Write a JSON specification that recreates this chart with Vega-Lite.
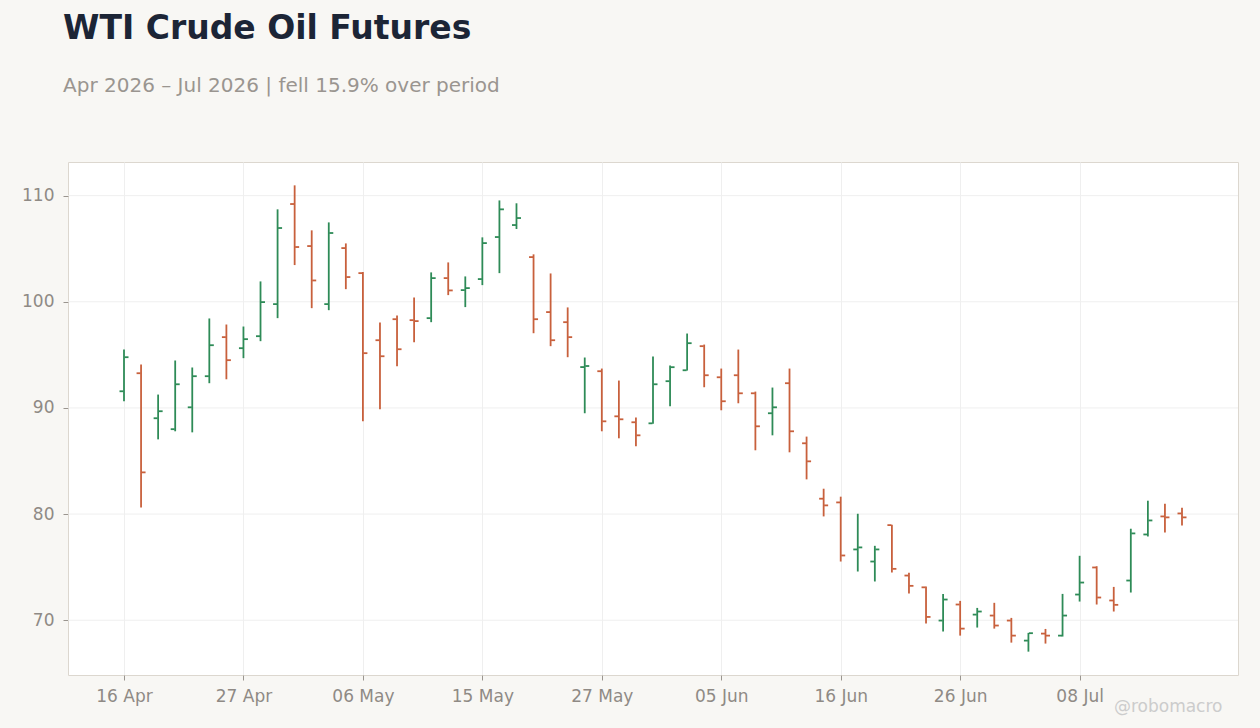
{
  "$schema": "https://vega.github.io/schema/vega-lite/v6.json",
  "width": 1170,
  "height": 513,
  "autosize": "none",
  "padding": {"left": 68, "top": 162, "right": 22, "bottom": 53},
  "background": "#f8f7f4",
  "title": {
    "text": "WTI Crude Oil Futures",
    "subtitle": "Apr 2026 – Jul 2026 | fell 15.9% over period",
    "anchor": "start",
    "frame": "group",
    "dx": -5,
    "offset": 66,
    "font": "DejaVu Sans",
    "fontSize": 33,
    "fontWeight": "bold",
    "color": "#1c2536",
    "subtitleFont": "DejaVu Sans",
    "subtitleFontSize": 20,
    "subtitleColor": "#9a9590",
    "subtitlePadding": 30
  },
  "datasets": {
    "wti": [
      {"date": "2026-04-16", "open": 91.57, "high": 95.5, "low": 90.63, "close": 94.78},
      {"date": "2026-04-17", "open": 93.27, "high": 94.09, "low": 80.63, "close": 83.93},
      {"date": "2026-04-20", "open": 89.03, "high": 91.26, "low": 87.04, "close": 89.69},
      {"date": "2026-04-21", "open": 88.0, "high": 94.47, "low": 87.8, "close": 92.23},
      {"date": "2026-04-22", "open": 90.06, "high": 93.81, "low": 87.7, "close": 92.99},
      {"date": "2026-04-23", "open": 92.99, "high": 98.43, "low": 92.33, "close": 95.91},
      {"date": "2026-04-24", "open": 96.67, "high": 97.86, "low": 92.7, "close": 94.5},
      {"date": "2026-04-27", "open": 95.63, "high": 97.67, "low": 94.69, "close": 96.48},
      {"date": "2026-04-28", "open": 96.76, "high": 101.92, "low": 96.29, "close": 99.97},
      {"date": "2026-04-29", "open": 99.78, "high": 108.71, "low": 98.46, "close": 106.95},
      {"date": "2026-04-30", "open": 109.21, "high": 110.97, "low": 103.46, "close": 105.16},
      {"date": "2026-05-01", "open": 105.25, "high": 106.73, "low": 99.4, "close": 102.01},
      {"date": "2026-05-04", "open": 99.78, "high": 107.48, "low": 99.21, "close": 106.48},
      {"date": "2026-05-05", "open": 105.06, "high": 105.5, "low": 101.19, "close": 102.33},
      {"date": "2026-05-06", "open": 102.7, "high": 102.8, "low": 88.74, "close": 95.16},
      {"date": "2026-05-07", "open": 96.38, "high": 98.05, "low": 89.87, "close": 94.87},
      {"date": "2026-05-08", "open": 98.36, "high": 98.71, "low": 93.93, "close": 95.53},
      {"date": "2026-05-11", "open": 98.27, "high": 100.41, "low": 96.19, "close": 98.18},
      {"date": "2026-05-12", "open": 98.46, "high": 102.77, "low": 98.08, "close": 102.23},
      {"date": "2026-05-13", "open": 102.23, "high": 103.71, "low": 100.63, "close": 101.07},
      {"date": "2026-05-14", "open": 101.1, "high": 102.39, "low": 99.5, "close": 101.29},
      {"date": "2026-05-15", "open": 102.14, "high": 106.07, "low": 101.57, "close": 105.53},
      {"date": "2026-05-18", "open": 106.1, "high": 109.55, "low": 102.7, "close": 108.71},
      {"date": "2026-05-19", "open": 107.23, "high": 109.28, "low": 106.86, "close": 107.89},
      {"date": "2026-05-20", "open": 104.21, "high": 104.47, "low": 97.04, "close": 98.36},
      {"date": "2026-05-21", "open": 99.03, "high": 102.67, "low": 95.82, "close": 96.38},
      {"date": "2026-05-22", "open": 98.08, "high": 99.47, "low": 94.78, "close": 96.67},
      {"date": "2026-05-26", "open": 93.85, "high": 94.75, "low": 89.5, "close": 93.95},
      {"date": "2026-05-27", "open": 93.46, "high": 93.71, "low": 87.8, "close": 88.74},
      {"date": "2026-05-28", "open": 89.21, "high": 92.58, "low": 87.14, "close": 88.93},
      {"date": "2026-05-29", "open": 88.65, "high": 89.09, "low": 86.38, "close": 87.42},
      {"date": "2026-06-01", "open": 88.55, "high": 94.84, "low": 88.52, "close": 92.23},
      {"date": "2026-06-02", "open": 92.52, "high": 93.99, "low": 90.16, "close": 93.84},
      {"date": "2026-06-03", "open": 93.55, "high": 97.01, "low": 93.52, "close": 96.1},
      {"date": "2026-06-04", "open": 95.82, "high": 95.97, "low": 91.95, "close": 93.08},
      {"date": "2026-06-05", "open": 92.89, "high": 93.71, "low": 89.78, "close": 90.63},
      {"date": "2026-06-08", "open": 93.08, "high": 95.5, "low": 90.44, "close": 91.38},
      {"date": "2026-06-09", "open": 91.38, "high": 91.54, "low": 86.01, "close": 88.27},
      {"date": "2026-06-10", "open": 89.5, "high": 91.92, "low": 87.42, "close": 90.06},
      {"date": "2026-06-11", "open": 92.33, "high": 93.71, "low": 85.82, "close": 87.8},
      {"date": "2026-06-12", "open": 86.67, "high": 87.3, "low": 83.27, "close": 84.97},
      {"date": "2026-06-15", "open": 81.45, "high": 82.39, "low": 79.78, "close": 80.82},
      {"date": "2026-06-16", "open": 81.1, "high": 81.64, "low": 75.53, "close": 76.1},
      {"date": "2026-06-17", "open": 76.67, "high": 80.03, "low": 74.59, "close": 76.86},
      {"date": "2026-06-18", "open": 75.53, "high": 77.01, "low": 73.65, "close": 76.67},
      {"date": "2026-06-22", "open": 78.96, "high": 78.99, "low": 74.5, "close": 74.84},
      {"date": "2026-06-23", "open": 74.21, "high": 74.47, "low": 72.52, "close": 73.24},
      {"date": "2026-06-24", "open": 73.1, "high": 73.18, "low": 69.69, "close": 70.31},
      {"date": "2026-06-25", "open": 69.97, "high": 72.48, "low": 68.93, "close": 71.95},
      {"date": "2026-06-26", "open": 71.48, "high": 71.82, "low": 68.55, "close": 69.21},
      {"date": "2026-06-29", "open": 70.53, "high": 71.16, "low": 69.31, "close": 70.82},
      {"date": "2026-06-30", "open": 70.44, "high": 71.64, "low": 69.21, "close": 69.5},
      {"date": "2026-07-01", "open": 69.97, "high": 70.22, "low": 67.89, "close": 68.55},
      {"date": "2026-07-02", "open": 68.08, "high": 68.81, "low": 67.04, "close": 68.78},
      {"date": "2026-07-06", "open": 68.74, "high": 69.18, "low": 67.8, "close": 68.55},
      {"date": "2026-07-07", "open": 68.55, "high": 72.48, "low": 68.46, "close": 70.44},
      {"date": "2026-07-08", "open": 72.42, "high": 76.07, "low": 71.76, "close": 73.55},
      {"date": "2026-07-09", "open": 74.97, "high": 75.09, "low": 71.48, "close": 72.14},
      {"date": "2026-07-10", "open": 71.86, "high": 73.14, "low": 70.82, "close": 71.45},
      {"date": "2026-07-13", "open": 73.74, "high": 78.62, "low": 72.61, "close": 78.18},
      {"date": "2026-07-14", "open": 78.08, "high": 81.26, "low": 77.89, "close": 79.4},
      {"date": "2026-07-15", "open": 79.78, "high": 80.97, "low": 78.27, "close": 79.69},
      {"date": "2026-07-16", "open": 80.06, "high": 80.6, "low": 78.93, "close": 79.69}
    ],
    "gridlines": [
      {"price": 70}, {"price": 80}, {"price": 90}, {"price": 100}, {"price": 110}
    ]
  },
  "layer": [
    {
      "data": {"name": "gridlines"},
      "mark": {"type": "rule", "color": "#efefef", "strokeWidth": 1},
      "encoding": {
        "y": {
          "field": "price",
          "type": "quantitative",
          "scale": {"domain": [64.84, 113.17], "nice": false, "zero": false},
          "axis": {"values": [70, 80, 90, 100, 110], "title": null, "labelPadding": 9, "grid": false}
        }
      }
    },
    {
      "data": {"name": "wti"},
      "encoding": {
        "x": {
          "field": "date",
          "type": "ordinal",
          "sort": "ascending",
          "scale": {"type": "point", "padding": 0, "range": [56, 1114]},
          "axis": {
            "values": ["2026-04-16", "2026-04-27", "2026-05-06", "2026-05-15", "2026-05-27", "2026-06-05", "2026-06-16", "2026-06-26", "2026-07-08"],
            "labelExpr": "utcFormat(toDate(datum.value), '%d %b')",
            "labelAngle": 0,
            "labelPadding": 8,
            "grid": true,
            "title": "@robomacro",
            "titleColor": "#cccccc",
            "titleFont": "DejaVu Sans",
            "titleFontSize": 17,
            "titleFontWeight": "normal",
            "titleAnchor": "end",
            "titleAlign": "right",
            "titleBaseline": "alphabetic",
            "titleX": 1154,
            "titleY": 36
          }
        },
        "color": {
          "condition": {"test": "datum.close >= datum.open", "value": "#2e8b57"},
          "value": "#c8603c"
        }
      },
      "layer": [
        {
          "mark": {"type": "rule", "strokeWidth": 1.8},
          "encoding": {
            "y": {"field": "low", "type": "quantitative"},
            "y2": {"field": "high"}
          }
        },
        {
          "mark": {"type": "tick", "size": 4, "thickness": 1.8, "xOffset": -2.5},
          "encoding": {"y": {"field": "open", "type": "quantitative"}}
        },
        {
          "mark": {"type": "tick", "size": 4, "thickness": 1.8, "xOffset": 2.5},
          "encoding": {"y": {"field": "close", "type": "quantitative"}}
        }
      ]
    }
  ],
  "config": {
    "view": {"fill": "#ffffff", "stroke": "#dcd7cf", "strokeWidth": 1},
    "axis": {
      "domain": false,
      "labelFont": "DejaVu Sans",
      "labelFontSize": 17,
      "labelColor": "#8f8a85",
      "tickColor": "#9a958f",
      "tickSize": 5,
      "gridColor": "#efefef",
      "gridWidth": 1
    },
    "tick": {"opacity": 1}
  }
}
